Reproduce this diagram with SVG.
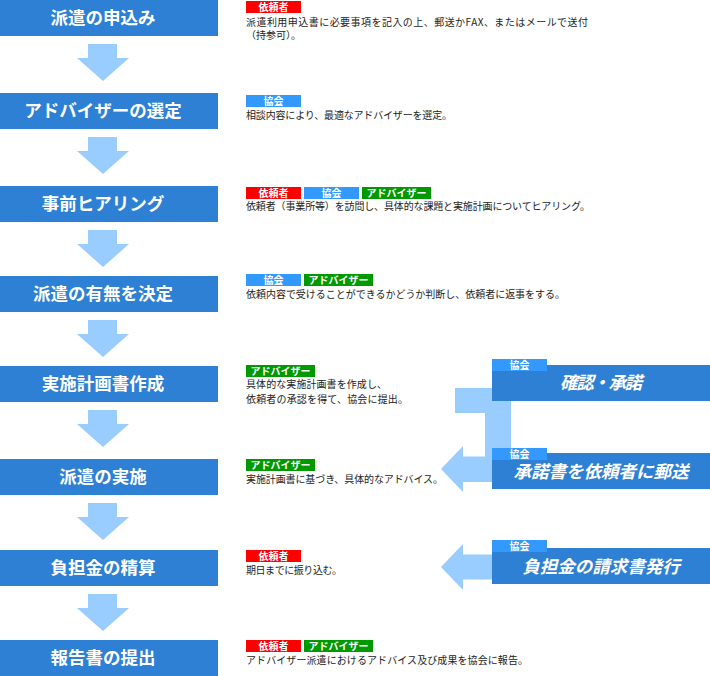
<svg xmlns="http://www.w3.org/2000/svg" width="710" height="676" viewBox="0 0 710 676">
<style>
text{font-family:"Noto Sans CJK JP","Noto Sans",sans-serif}
.box{fill:#2d80d3}
.bt{fill:#fff;font-size:17.5px;font-weight:bold;text-anchor:middle}
.rt{fill:#fff;font-size:17.5px;font-weight:bold;text-anchor:middle;font-style:italic}
.arr{fill:#99ccff}
.tr{fill:#ff0000}.tb{fill:#3399ff}.tg{fill:#009900}
.tt{fill:#fff;font-size:10px;font-weight:bold;text-anchor:middle}
.d{fill:#222;font-size:10px}
</style>
<defs>
<polygon id="down" points="88,0 117,0 117,14 129,14 103,37 77,14 88,14"/>
</defs>
<g id="connectors" class="arr">
<use href="#down" y="44"/>
<use href="#down" y="137"/>
<use href="#down" y="230"/>
<use href="#down" y="320"/>
<use href="#down" y="410"/>
<use href="#down" y="503"/>
<use href="#down" y="594"/>
<polygon points="455,388 500,388 511,388 511,482 463,482 463,492 441,469 463,446 463,456.5 485,456.5 485,413 455,413"/>
<polygon points="441,567 463,544 463,554.5 500,554.5 500,579.5 463,579.5 463,590"/>
</g>
<g id="n1"><rect class="box" x="0" y="0" width="218" height="36"/><text class="bt" x="103" y="24">派遣の申込み</text></g>
<g id="n2"><rect class="box" x="0" y="93" width="218" height="36"/><text class="bt" x="103" y="117">アドバイザーの選定</text></g>
<g id="n3"><rect class="box" x="0" y="186" width="218" height="36"/><text class="bt" x="103" y="210">事前ヒアリング</text></g>
<g id="n4"><rect class="box" x="0" y="276" width="218" height="36"/><text class="bt" x="103" y="300">派遣の有無を決定</text></g>
<g id="n5"><rect class="box" x="0" y="366" width="218" height="36"/><text class="bt" x="103" y="390">実施計画書作成</text></g>
<g id="n6"><rect class="box" x="0" y="459" width="218" height="36"/><text class="bt" x="103" y="483">派遣の実施</text></g>
<g id="n7"><rect class="box" x="0" y="550" width="218" height="36"/><text class="bt" x="103" y="574">負担金の精算</text></g>
<g id="n8"><rect class="box" x="0" y="640" width="218" height="36"/><text class="bt" x="103" y="664">報告書の提出</text></g>

<g id="d1">
<rect class="tr" x="246" y="1" width="55" height="12"/><text class="tt" x="273.5" y="10.5">依頼者</text>
<text class="d" x="246" y="26" textLength="342" lengthAdjust="spacing">派遣利用申込書に必要事項を記入の上、郵送かFAX、またはメールで送付</text>
<text class="d" x="246" y="39">（持参可）。</text>
</g>
<g id="d2">
<rect class="tb" x="246" y="95" width="55" height="12"/><text class="tt" x="273.5" y="104.5">協会</text>
<text class="d" x="246" y="119" textLength="206" lengthAdjust="spacing">相談内容により、最適なアドバイザーを選定。</text>
</g>
<g id="d3">
<rect class="tr" x="246" y="187" width="55" height="12"/><text class="tt" x="273.5" y="196.5">依頼者</text>
<rect class="tb" x="304" y="187" width="55" height="12"/><text class="tt" x="331.5" y="196.5">協会</text>
<rect class="tg" x="362" y="187" width="69" height="12"/><text class="tt" x="396.5" y="196.5">アドバイザー</text>
<text class="d" x="246" y="210" textLength="344" lengthAdjust="spacing">依頼者（事業所等）を訪問し、具体的な課題と実施計画についてヒアリング。</text>
</g>
<g id="d4">
<rect class="tb" x="246" y="274" width="55" height="12"/><text class="tt" x="273.5" y="283.5">協会</text>
<rect class="tg" x="304" y="274" width="69" height="12"/><text class="tt" x="338.5" y="283.5">アドバイザー</text>
<text class="d" x="246" y="298" textLength="319" lengthAdjust="spacing">依頼内容で受けることができるかどうか判断し、依頼者に返事をする。</text>
</g>
<g id="d5">
<rect class="tg" x="246" y="365" width="69" height="12"/><text class="tt" x="280.5" y="374.5">アドバイザー</text>
<text class="d" x="246" y="388" textLength="141" lengthAdjust="spacing">具体的な実施計画書を作成し、</text>
<text class="d" x="246" y="403" textLength="162" lengthAdjust="spacing">依頼者の承認を得て、協会に提出。</text>
</g>
<g id="d6">
<rect class="tg" x="246" y="459" width="69" height="12"/><text class="tt" x="280.5" y="468.5">アドバイザー</text>
<text class="d" x="246" y="483" textLength="197" lengthAdjust="spacing">実施計画書に基づき、具体的なアドバイス。</text>
</g>
<g id="d7">
<rect class="tr" x="246" y="550" width="55" height="12"/><text class="tt" x="273.5" y="559.5">依頼者</text>
<text class="d" x="246" y="574" textLength="96" lengthAdjust="spacing">期日までに振り込む。</text>
</g>
<g id="d8">
<rect class="tr" x="246" y="640" width="55" height="12"/><text class="tt" x="273.5" y="649.5">依頼者</text>
<rect class="tg" x="304" y="640" width="69" height="12"/><text class="tt" x="338.5" y="649.5">アドバイザー</text>
<text class="d" x="246" y="664" textLength="282" lengthAdjust="spacing">アドバイザー派遣におけるアドバイス及び成果を協会に報告。</text>
</g>

<g id="r1"><rect class="box" x="492" y="365" width="218" height="36"/><rect class="tb" x="492" y="359" width="55" height="12"/><text class="tt" x="519.5" y="368.5">協会</text><text class="rt" x="601" y="389" textLength="82" lengthAdjust="spacing">確認・承諾</text></g>
<g id="r2"><rect class="box" x="492" y="453" width="218" height="36"/><rect class="tb" x="492" y="448" width="55" height="12"/><text class="tt" x="519.5" y="457.5">協会</text><text class="rt" x="601" y="478">承諾書を依頼者に郵送</text></g>
<g id="r3"><rect class="box" x="492" y="548" width="218" height="36"/><rect class="tb" x="492" y="540" width="55" height="12"/><text class="tt" x="519.5" y="549.5">協会</text><text class="rt" x="601" y="573">負担金の請求書発行</text></g>
</svg>
